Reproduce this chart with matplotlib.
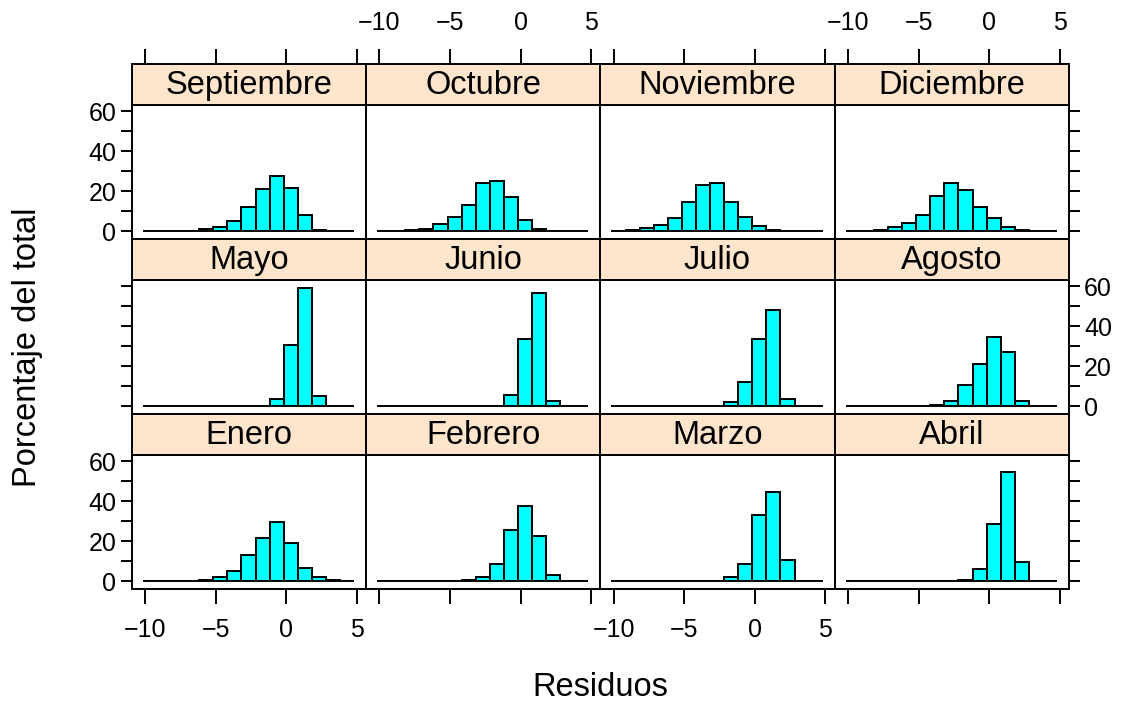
import numpy as np
import matplotlib
matplotlib.use("Agg")
import matplotlib.pyplot as plt

plt.rcParams['font.family'] = ['Liberation Sans', 'DejaVu Sans']

# Histogram breaks shared by all panels (residual range split into 15 bins)
breaks = np.linspace(-10.16, 4.81, 16)

# Percent of total per bin, one list per month
months_grid = [
    ["Septiembre", "Octubre", "Noviembre", "Diciembre"],
    ["Mayo", "Junio", "Julio", "Agosto"],
    ["Enero", "Febrero", "Marzo", "Abril"],
]

enero = [0.1, 0.1, 0.1, 0.2, 0.6, 1.8, 5.0, 13.2, 21.7, 29.7, 19.2, 6.3, 1.8, 0.4, 0.0]
febrero = [0, 0, 0, 0, 0, 0, 0.3, 1.8, 8.4, 25.6, 37.8, 22.6, 3.2, 0, 0]
marzo = [0, 0, 0, 0, 0, 0, 0, 0.2, 1.8, 8.5, 33.2, 44.9, 10.7, 0.1, 0]
abril = [0, 0, 0, 0, 0, 0, 0, 0, 0.3, 6.2, 28.6, 54.6, 9.4, 0, 0]
mayo = [0, 0, 0, 0, 0, 0, 0, 0, 0.1, 3.7, 30.7, 59.1, 5.2, 0, 0]
junio = [0, 0, 0, 0, 0, 0, 0, 0, 0.2, 5.5, 33.7, 56.8, 2.3, 0, 0]
julio = [0, 0, 0, 0, 0, 0, 0, 0.2, 1.8, 12.0, 33.6, 48.1, 3.5, 0, 0]
agosto = [0, 0, 0, 0, 0, 0.2, 0.6, 2.3, 10.5, 20.9, 34.8, 27.1, 2.7, 0, 0]
septiembre = [0, 0, 0, 0.1, 0.8, 2.2, 5.0, 11.9, 20.9, 27.4, 21.7, 8.2, 0.3, 0, 0]
octubre = [0, 0, 0.3, 0.8, 3.7, 7.2, 13.0, 24.1, 25.1, 17.0, 5.3, 1.0, 0.1, 0, 0]
noviembre = [0, 0.3, 1.7, 3.2, 6.5, 14.4, 23.1, 23.9, 14.7, 7.2, 2.5, 0.4, 0.2, 0, 0]
diciembre = [0, 0, 0.5, 2.0, 4.2, 8.0, 17.4, 24.2, 20.6, 12.2, 6.3, 2.0, 0.6, 0.1, 0]

percent = {
    "Enero": enero, "Febrero": febrero, "Marzo": marzo, "Abril": abril,
    "Mayo": mayo, "Junio": junio, "Julio": julio, "Agosto": agosto,
    "Septiembre": septiembre, "Octubre": octubre, "Noviembre": noviembre,
    "Diciembre": diciembre,
}

x_ticks = [-10, -5, 0, 5]
y_ticks = [0, 10, 20, 30, 40, 50, 60]
y_labels = ["0", "", "20", "", "40", "", "60"]

W, H = 1135, 702
fig = plt.figure(figsize=(W / 100, H / 100), dpi=100)

left0, pw = 131.7, 234.3
tops = [105.0, 280.0, 455.0]
ph, sh = 134.3, 40.7

ymax = max(max(v) for v in percent.values())
ylim = (-0.07 * ymax, ymax * 1.07)
xlim = (-10.95, 5.65)

tick_fs = 18
title_fs = 23.5
lw_frame = 1.4
x_tick_len, x_tick_pad = 11, 10
y_tick_len, y_tick_pad = 8, 3

nrow, ncol = 3, 4
widths = np.diff(breaks)

for r in range(nrow):
    for c in range(ncol):
        name = months_grid[r][c]
        x0 = left0 + c * pw
        ytop = tops[r]
        ax = fig.add_axes([x0 / W, 1 - (ytop + ph) / H, pw / W, ph / H])
        ax.bar(breaks[:-1], percent[name], width=widths, align='edge',
               color='#00FFFF', edgecolor='black', linewidth=1.4, zorder=3)
        ax.set_xlim(*xlim)
        ax.set_ylim(*ylim)
        for s in ax.spines.values():
            s.set_linewidth(lw_frame)
        ax.set_xticks(x_ticks)
        ax.set_yticks(y_ticks)
        ax.set_yticklabels(y_labels)
        ax.tick_params(axis='x', direction='out', length=x_tick_len,
                       width=lw_frame, pad=x_tick_pad, labelsize=tick_fs)
        ax.tick_params(axis='y', direction='out', length=y_tick_len,
                       width=lw_frame, pad=y_tick_pad, labelsize=tick_fs)
        ax.tick_params(bottom=False, top=False, left=False, right=False,
                       labelbottom=False, labeltop=False,
                       labelleft=False, labelright=False)
        if r == nrow - 1:
            ax.tick_params(bottom=True, labelbottom=(c % 2 == 0))
        if c == 0:
            ax.tick_params(left=True, labelleft=(r % 2 == 0))
        if c == ncol - 1:
            ax.tick_params(right=True, labelright=(r % 2 == 1))

        # strip with the month name
        sax = fig.add_axes([x0 / W, 1 - ytop / H, pw / W, sh / H])
        sax.set_facecolor('#FFE5CC')
        sax.set_xlim(*xlim)
        sax.set_yticks([])
        sax.set_xticks(x_ticks)
        for s in sax.spines.values():
            s.set_linewidth(lw_frame)
        sax.tick_params(axis='x', direction='out', length=x_tick_len,
                        width=lw_frame, pad=x_tick_pad, labelsize=tick_fs,
                        bottom=False, labelbottom=False,
                        top=(r == 0), labeltop=(r == 0 and c % 2 == 1))
        sax.text(0.5, 0.47, name, transform=sax.transAxes, ha='center',
                 va='center', fontsize=title_fs)

fig.text(600 / W, 1 - 688 / H, "Residuos", ha='center', va='center',
         fontsize=title_fs)
fig.text(28 / W, 1 - 347 / H, "Porcentaje del total", ha='center',
         va='center', rotation=90, fontsize=title_fs)

fig.savefig("out.png", dpi=100)
